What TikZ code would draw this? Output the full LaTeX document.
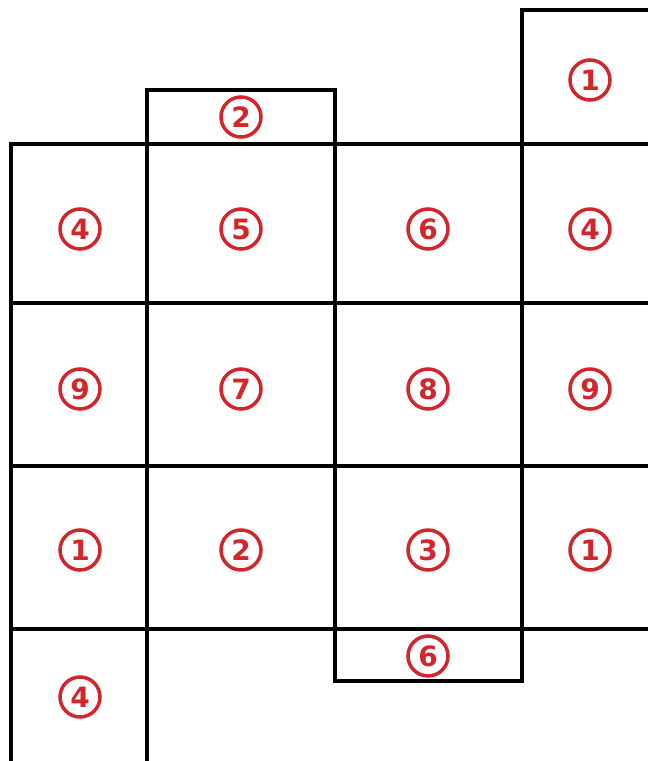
\documentclass[tikz,border=0pt]{standalone}
\usepackage{fontspec}
\newfontfamily\numfont{DejaVu Sans}
\definecolor{numred}{RGB}{208,38,44}
\tikzset{
  grid line/.style={line width=4pt, black, line cap=rect},
  cnum/.style={circle, draw=numred, line width=3.5pt, minimum size=40pt, inner sep=0pt,
    text=numred, font=\numfont\bfseries\fontsize{28}{28}\selectfont}
}
\begin{document}
\begin{tikzpicture}[x=1pt,y=1pt]
\useasboundingbox (0,0) rectangle (648,761);
% horizontal lines (y = 761 - pixel y)
\draw[grid line] (522,751) -- (660,751);
\draw[grid line] (147,671) -- (335,671);
\draw[grid line] (11,617) -- (660,617);
\draw[grid line] (11,458) -- (660,458);
\draw[grid line] (11,295) -- (660,295);
\draw[grid line] (11,132) -- (660,132);
\draw[grid line] (335,80) -- (522,80);
% vertical lines
\draw[grid line] (11,617) -- (11,-10);
\draw[grid line] (147,671) -- (147,-10);
\draw[grid line] (335,671) -- (335,80);
\draw[grid line] (522,751) -- (522,80);
% circled numbers
\node[cnum] (t1) at (590,681) {1};
\node[cnum] (t2) at (241,644) {2};
\node[cnum] (a1) at (80,532) {4};
\node[cnum] (a2) at (241,532) {5};
\node[cnum] (a3) at (428,532) {6};
\node[cnum] (a4) at (590,532) {4};
\node[cnum] (b1) at (80,372) {9};
\node[cnum] (b2) at (241,372) {7};
\node[cnum] (b3) at (428,372) {8};
\node[cnum] (b4) at (590,372) {9};
\node[cnum] (c1) at (80,211) {1};
\node[cnum] (c2) at (241,211) {2};
\node[cnum] (c3) at (428,211) {3};
\node[cnum] (c4) at (590,211) {1};
\node[cnum] (d3) at (428,105) {6};
\node[cnum] (d1) at (80,64) {4};
\end{tikzpicture}
\end{document}
